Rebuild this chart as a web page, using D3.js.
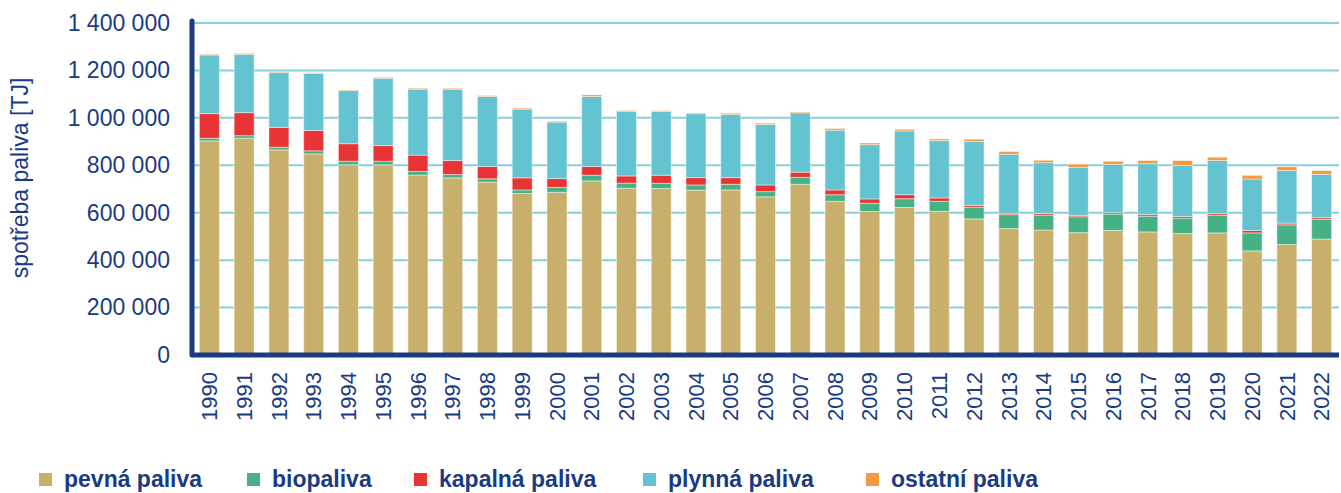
<!DOCTYPE html>
<html>
<head>
<meta charset="utf-8">
<script src="https://cdn.jsdelivr.net/npm/d3@7"></script>
<style>
  body { margin: 0; background: #fff; }
  svg { display: block; font-family: "Liberation Sans", Arial, sans-serif; }
</style>
</head>
<body>
<script>
// data (TJ)
const years = ['1990','1991','1992','1993','1994','1995','1996','1997','1998','1999','2000','2001','2002','2003','2004','2005','2006','2007','2008','2009','2010','2011','2012','2013','2014','2015','2016','2017','2018','2019','2020','2021','2022']
const pevna   = [903000, 914000, 865000, 848000, 802000, 802000, 759000, 747000, 729000, 681000, 686000, 734000, 703000, 702000, 695000, 696000, 667000, 720000, 648000, 605000, 622000, 606000, 574000, 533000, 527000, 516000, 525000, 519000, 512000, 515000, 439000, 466000, 489000]
const bio     = [11000, 11000, 11000, 13000, 15000, 15000, 15000, 14000, 14000, 15000, 21000, 24000, 22000, 22000, 22000, 24000, 22000, 29000, 28000, 35000, 37000, 42000, 49000, 59000, 63000, 67000, 69000, 66000, 65000, 74000, 76000, 83000, 83000]
const kapalna = [104000, 97000, 84000, 86000, 74000, 66000, 69000, 59000, 52000, 51000, 37000, 37000, 30000, 34000, 31000, 28000, 28000, 22000, 20000, 18000, 17000, 14000, 8000, 6000, 7000, 6000, 6000, 7000, 7000, 7000, 10000, 7000, 7000]
const plynna  = [247000, 246000, 231000, 240000, 224000, 284000, 278000, 301000, 295000, 290000, 238000, 295000, 273000, 269000, 270000, 266000, 255000, 250000, 252000, 229000, 269000, 242000, 269000, 249000, 214000, 202000, 204000, 215000, 215000, 224000, 217000, 222000, 183000]
const ostatni = [3000, 4000, 4000, 3000, 3000, 3500, 4000, 3500, 4000, 4000, 4000, 7000, 3000, 4000, 3000, 5500, 5500, 4000, 7000, 7000, 7000, 7000, 10000, 11000, 10000, 14000, 13000, 13000, 21000, 14000, 15500, 15500, 15500]

const seriesNames = ['pevná paliva', 'biopaliva', 'kapalná paliva', 'plynná paliva', 'ostatní paliva']
const yTicks = [0, 200000, 400000, 600000, 800000, 1000000, 1200000, 1400000]

const colors = ['#C8AF6B', '#45B285', '#E83435', '#63C3D1', '#F4993F']
const navy = '#1A3B81'

const w = 1341
const h = 493
const mLeft = 192
const mRight = 1339
const mTop = 23
const mBottom = 355

const svg = d3.select('body')
        .append('svg')
        .attr('width', w)
        .attr('height', h)

// build rows for the stack
const rows = years.map((y, i) => ({
  year: y,
  'pevná paliva': pevna[i],
  'biopaliva': bio[i],
  'kapalná paliva': kapalna[i],
  'plynná paliva': plynna[i],
  'ostatní paliva': ostatni[i]
}))

const stacked = d3.stack().keys(seriesNames)(rows)

// Scales
const xScale = d3.scaleBand()
           .domain(years)
           .range([mLeft, mRight])
           .paddingInner(0.425)
           .paddingOuter(0.2125)

const yScale = d3.scaleLinear()
           .domain([0, 1400000])
           .range([mBottom, mTop])

// Gridlines
svg.append('g')
   .selectAll('line')
   .data(yTicks.filter(t => t > 0))
   .enter()
     .append('line')
     .attr('x1', mLeft)
     .attr('x2', mRight)
     .attr('y1', d => yScale(d))
     .attr('y2', d => yScale(d))
     .attr('stroke', '#86CFDB')
     .attr('stroke-width', 2)

// Bars
svg.append('g')
   .selectAll('g')
   .data(stacked)
   .enter()
     .append('g')
     .attr('fill', (d, i) => colors[i])
     .selectAll('rect')
     .data(d => d)
     .enter()
       .append('rect')
       .attr('x', d => xScale(d.data.year))
       .attr('y', d => yScale(d[1]))
       .attr('width', xScale.bandwidth())
       .attr('height', d => yScale(d[0]) - yScale(d[1]))
       .attr('stroke', 'rgba(255,255,255,0.45)')
       .attr('stroke-width', 1)

// Y axis labels
const fmt = v => d3.format(',')(v).replace(/,/g, ' ')
const yAxis = d3.axisLeft(yScale).tickValues(yTicks).tickFormat(fmt).tickSize(0).tickPadding(22)

const gy = svg.append('g')
        .attr('transform', `translate(${mLeft}, 0)`)
        .call(yAxis)
gy.select('.domain').remove()
gy.selectAll('text')
  .attr('fill', navy)
  .style('font-size', '23px')
  .style('font-family', '"Liberation Sans", Arial, sans-serif')

// X axis labels
const xAxis = d3.axisBottom(xScale).tickSize(0)
const gx = svg.append('g')
        .attr('transform', `translate(0, ${mBottom})`)
        .call(xAxis)
gx.select('.domain').remove()
gx.selectAll('text')
  .attr('fill', navy)
  .style('font-size', '22px')
  .style('font-family', '"Liberation Sans", Arial, sans-serif')
  .attr('text-anchor', 'end')
  .attr('dy', '0.35em')
  .attr('transform', 'translate(0, 17) rotate(-90)')
  .attr('x', 0)
  .attr('y', 0)

// axis lines
svg.append('line')
   .attr('x1', mLeft).attr('x2', mLeft)
   .attr('y1', mTop - 2).attr('y2', mBottom)
   .attr('stroke', navy).attr('stroke-width', 5).attr('stroke-linecap', 'round')
svg.append('line')
   .attr('x1', mLeft).attr('x2', mRight)
   .attr('y1', mBottom).attr('y2', mBottom)
   .attr('stroke', navy).attr('stroke-width', 5)

// Y title
svg.append('text')
   .attr('transform', `translate(28, 178) rotate(-90)`)
   .attr('text-anchor', 'middle')
   .attr('fill', navy)
   .style('font-size', '23px')
   .text('spotřeba paliva [TJ]')

// Legend
const legendX = [39, 247, 414, 643, 866]
const legend = svg.append('g')
            .selectAll('g')
            .data(seriesNames)
            .enter()
              .append('g')
              .attr('transform', (d, i) => `translate(${legendX[i]}, 479)`)
legend.append('rect')
      .attr('x', 0).attr('y', -6)
      .attr('width', 13).attr('height', 13)
      .attr('fill', (d, i) => colors[i])
legend.append('text')
      .attr('x', 25)
      .attr('y', 0)
      .attr('dy', '0.35em')
      .attr('fill', navy)
      .style('font-size', '23px')
      .style('font-weight', 'bold')
      .text(d => d)
</script>
</body>
</html>
